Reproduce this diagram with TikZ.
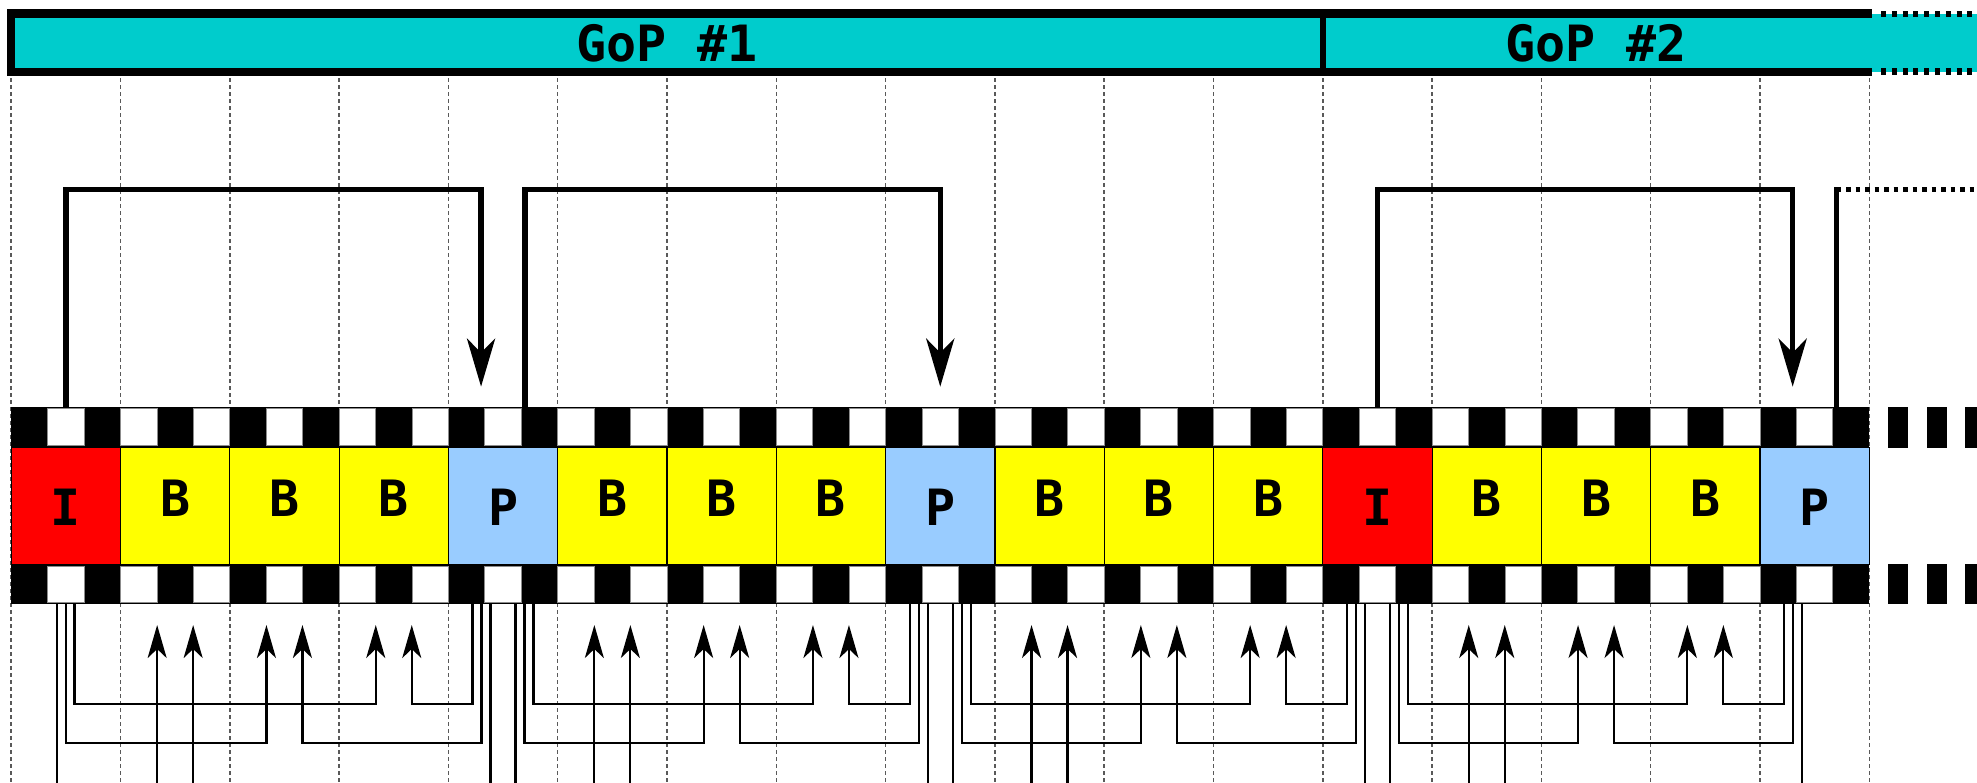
\documentclass[tikz,border=0pt]{standalone}
\usepackage{fontspec}
\newfontfamily\monofont{DejaVu Sans Mono}
\usetikzlibrary{arrows.meta,calc}
\definecolor{gopcyan}{RGB}{0,204,204}
\definecolor{iframe}{RGB}{255,0,0}
\definecolor{bframe}{RGB}{255,255,0}
\definecolor{pframe}{RGB}{153,204,255}
\begin{document}
\begin{tikzpicture}[x=1pt,y=-1pt,
  framebox/.style={draw=black, line width=1.2pt, minimum width=109.3pt, minimum height=116.6pt, inner sep=0pt, outer sep=0pt},
  letter/.style={font=\monofont\bfseries\fontsize{50}{60}\selectfont, inner sep=0pt, anchor=base},
  gridline/.style={draw=black!65, line width=1.5pt, dash pattern=on 4pt off 3pt},
  toparrow/.style={line width=5.5pt, -{Stealth[length=48pt,width=28pt,inset=14pt]}},
  conn/.style={line width=2.2pt},
  connarrow/.style={conn, -{Stealth[length=33pt,width=19pt,inset=9pt]}},
  hole/.style={fill=white, draw=black!45, line width=0.8pt}
  ]
\useasboundingbox (0,0) rectangle (1977,782);
\fill[white] (0,0) rectangle (1977,782);
\clip (0,0) rectangle (1977,782);

% grid of dashed lines
\foreach \i in {0,...,17} \draw[gridline] ({11.2+\i*109.3},78) -- ({11.2+\i*109.3},782);

% GoP bar
\fill[gopcyan] (11,13.5) rectangle (1977,71.7);
\draw[line width=8.5pt] (1871.5,13.55) -- (11,13.55) -- (11,71.75) -- (1871.5,71.75);
\draw[line width=6.5pt] (1322.8,13.55) -- (1322.8,71.75);
\draw[line width=6pt, dash pattern=on 5pt off 5.8pt] (1881,13.7) -- (1977,13.7);
\draw[line width=6.5pt, dash pattern=on 5pt off 5.8pt] (1881,71.7) -- (1977,71.7);
\node[letter] (g1) at (667,61.7) {GoP \#1};
\node[letter] (g2) at (1596,61.7) {GoP \#2};

% film strip
\fill[black] (11.2,406.7) rectangle (1869.3,447.7);
\fill[black] (11.2,564.3) rectangle (1869.3,604.3);
\foreach \k in {1,3,...,49} {
  \filldraw[hole] ({11.2+\k*36.4333},408.7) rectangle ++(36.4333,37);
  \filldraw[hole] ({11.2+\k*36.4333},566.3) rectangle ++(36.4333,36);
}
\foreach \x in {1888.3,1926.7,1965} {
  \fill[black] (\x,406.7) rectangle ++(20,41);
  \fill[black] (\x,564.3) rectangle ++(20,40);
}

% frames
\foreach \t/\c/\dy [count=\i from 0] in {I/iframe/19, B/bframe/10.7, B/bframe/10.7, B/bframe/10.7, P/pframe/19,
    B/bframe/10.7, B/bframe/10.7, B/bframe/10.7, P/pframe/19,
    B/bframe/10.7, B/bframe/10.7, B/bframe/10.7, I/iframe/19,
    B/bframe/10.7, B/bframe/10.7, B/bframe/10.7, P/pframe/19} {
  \node[framebox, fill=\c] (f\i) at ({11.2+(\i+0.5)*109.3},506) {};
  \node[letter] (t\i) at ($(f\i.center)+(0,\dy)$) {\t};
}

% top reference arrows
\draw[toparrow] ($(f0.north)+(0,-41)$) |- ($(f4.north)+(-22,-258)$) -- ($(f4.north)+(-22,-61)$);
\draw[toparrow] ($(f4.north)+(22,-41)$) |- ($(f8.north)+(0,-258)$) -- ($(f8.north)+(0,-61)$);
\draw[toparrow] ($(f12.north)+(0,-41)$) |- ($(f16.north)+(-22,-258)$) -- ($(f16.north)+(-22,-61)$);
\draw[line width=5.5pt, line cap=rect] ($(f16.north)+(22,-41)$) -- ($(f16.north)+(22,-258)$);
\draw[line width=5.5pt, dash pattern=on 4.5pt off 5pt] ($(f16.north)+(22,-258)$) -- ++(160,0);

% bottom B-frame references
\foreach \a/\o/\p/\q in {0/-8.5/0/8.7, 4/12.5/21.5/30.5, 8/12.5/21.5/30.5, 12/12.5/21.5/30.5} {
  \pgfmathtruncatemacro{\ba}{\a+1}
  \pgfmathtruncatemacro{\bb}{\a+2}
  \pgfmathtruncatemacro{\bc}{\a+3}
  \pgfmathtruncatemacro{\rb}{\a+4}
  % level 1
  \draw[connarrow] ($(f\a.south)+(\q,40)$) |- ($(f\bc.south)+(-18,139.7)$) -- ($(f\bc.south)+(-18,60.7)$);
  \draw[connarrow] ($(f\rb.south)+(-30.5,40)$) |- ($(f\bc.south)+(18,139.7)$) -- ($(f\bc.south)+(18,60.7)$);
  % level 2
  \draw[connarrow] ($(f\a.south)+(\p,40)$) |- ($(f\bb.south)+(-18,178.4)$) -- ($(f\bb.south)+(-18,60.7)$);
  \draw[connarrow] ($(f\rb.south)+(-21.5,40)$) |- ($(f\bb.south)+(18,178.4)$) -- ($(f\bb.south)+(18,60.7)$);
  % level 3
  \draw[connarrow] ($(f\a.south)+(\o,40)$) |- ($(f\ba.south)+(-18,235.7)$) -- ($(f\ba.south)+(-18,60.7)$);
  \draw[connarrow] ($(f\rb.south)+(-12.5,40)$) |- ($(f\ba.south)+(18,235.7)$) -- ($(f\ba.south)+(18,60.7)$);
}
\end{tikzpicture}
\end{document}
